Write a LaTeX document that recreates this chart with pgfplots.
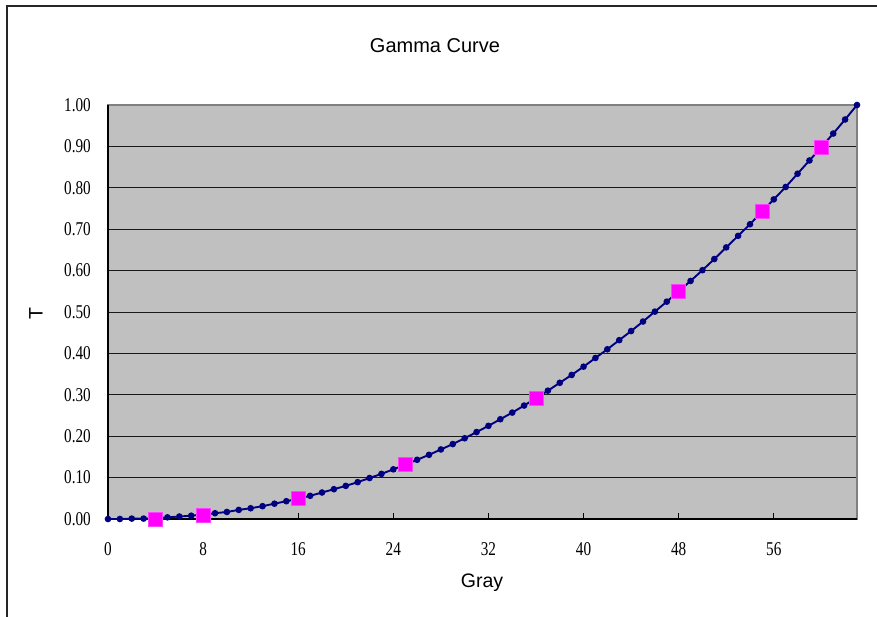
\documentclass[border=0pt]{standalone}
\usepackage{fontspec}
\setmainfont{Liberation Serif}
\setsansfont{Liberation Sans}
\newfontfamily\tickfont[FakeStretch=0.78]{Liberation Serif}
\usepackage{pgfplots}
\pgfplotsset{compat=1.18}
\definecolor{plotgray}{HTML}{C0C0C0}
\definecolor{bordergray}{HTML}{808080}
\definecolor{navyline}{HTML}{000080}
\definecolor{mag}{HTML}{FF00FF}
\begin{document}
\begin{tikzpicture}
\path[use as bounding box] (0bp,0bp) rectangle (877bp,-617bp);
\draw[line width=1.3bp, black!85] (7bp,-617bp) -- (7bp,-6bp) -- (877bp,-6bp);
\node[font=\sffamily\fontsize{20bp}{23bp}\selectfont, anchor=base] at (435bp,-52bp) {Gamma Curve};
\node[font=\sffamily\fontsize{19.5bp}{22bp}\selectfont, anchor=base] at (482bp,-587bp) {Gray};
\node[font=\sffamily\fontsize{19.5bp}{22bp}\selectfont, rotate=90, anchor=center] at (36bp,-314bp) {T};
\begin{axis}[
  at={(108bp,-519bp)}, anchor=south west,
  scale only axis, width=749bp, height=414bp,
  xmin=0, xmax=63, ymin=0, ymax=1,
  clip=false,
  axis background/.style={fill=plotgray},
  axis line style={bordergray, line width=1.3bp},
  xtick={0,8,16,24,32,40,48,56},
  ytick={0,0.1,0.2,0.3,0.4,0.5,0.6,0.7,0.8,0.9,1.0},
  xtick pos=bottom, ytick pos=left,
  ymajorgrids,
  major grid style={black!90, line width=0.8bp},
  tick align=inside,
  xtick style={black, line width=0.8bp},
  major tick length=6bp,
  ytick style={draw=none},
  /pgf/number format/assume math mode=true,
  yticklabel style={/pgf/number format/fixed, /pgf/number format/fixed zerofill, /pgf/number format/precision=2},
  ticklabel style={font=\tickfont\fontsize{19.5bp}{22bp}\selectfont, inner sep=0pt},
  xticklabel style={anchor=base, yshift=-36bp},
  yticklabel style={anchor=east, xshift=-17bp},
]
\draw[black, line width=1.5bp] (rel axis cs:0,1) -- (rel axis cs:0,0) -- (rel axis cs:1,0);
\addplot[navyline, line width=1.9bp, mark=*, mark size=2.3bp] coordinates {
(0,0.000) (1,0.000) (2,0.001) (3,0.001) (4,0.002) (5,0.004) (6,0.006) (7,0.008)
(8,0.011) (9,0.014) (10,0.017) (11,0.022) (12,0.026) (13,0.031) (14,0.037) (15,0.043)
(16,0.049) (17,0.056) (18,0.064) (19,0.072) (20,0.080) (21,0.089) (22,0.099) (23,0.109)
(24,0.120) (25,0.131) (26,0.143) (27,0.155) (28,0.168) (29,0.181) (30,0.195) (31,0.210)
(32,0.225) (33,0.241) (34,0.257) (35,0.274) (36,0.292) (37,0.310) (38,0.329) (39,0.348)
(40,0.368) (41,0.389) (42,0.410) (43,0.432) (44,0.454) (45,0.477) (46,0.501) (47,0.525)
(48,0.550) (49,0.575) (50,0.601) (51,0.628) (52,0.656) (53,0.684) (54,0.712) (55,0.742)
(56,0.772) (57,0.802) (58,0.834) (59,0.866) (60,0.898) (61,0.931) (62,0.965) (63,1.000)
};
\addplot[only marks, mark=square*, mark size=7bp, mark options={fill=mag, draw=mag!75!white, line width=0.6bp}] coordinates {
(4,0.000) (8,0.010) (16,0.049) (25,0.131) (36,0.292) (48,0.550) (55,0.744) (60,0.899)
};
\end{axis}
\end{tikzpicture}
\end{document}
